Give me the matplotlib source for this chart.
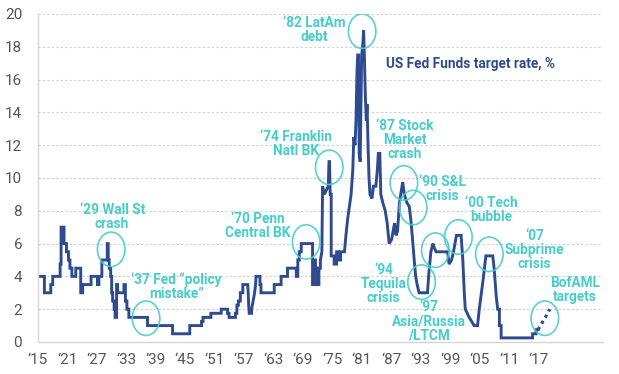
import matplotlib
matplotlib.use("Agg")
import matplotlib.pyplot as plt
from matplotlib.patches import Ellipse

plt.rcParams['font.family'] = ['Roboto', 'DejaVu Sans']

# Fed funds / discount rate history (year, %)
years = [
    1915.0, 1916.4, 1916.4, 1917.7, 1917.7, 1918.1, 1918.1, 1919.6, 1919.6, 1919.8, 1919.8,
    1920.4, 1920.4, 1920.9, 1920.9, 1921.3, 1921.3, 1921.6, 1921.6, 1922.0, 1922.0,
    1922.8, 1922.8, 1923.8, 1923.8, 1924.2, 1924.2, 1925.9, 1925.9, 1927.2, 1927.2,
    1927.5, 1927.5, 1928.1, 1928.1, 1929.2, 1929.2, 1929.4, 1929.4, 1929.6, 1929.6,
    1929.9, 1929.9, 1930.1, 1930.1, 1930.3, 1930.3, 1930.6, 1930.6, 1930.8, 1930.8,
    1931.1, 1931.1, 1931.3, 1931.3, 1932.6, 1932.6, 1932.9, 1932.9, 1933.2, 1933.2,
    1933.6, 1933.6, 1937.4, 1937.4, 1942.5, 1942.5, 1946.0, 1946.0, 1948.4, 1948.4,
    1948.7, 1948.7, 1950.3, 1950.3, 1952.4, 1952.4, 1953.7, 1953.7, 1954.0, 1954.0,
    1955.3, 1955.3, 1955.6, 1955.6, 1955.9, 1955.9, 1956.3, 1956.3, 1956.8, 1956.8,
    1957.8, 1957.9, 1958.0, 1958.1, 1958.6, 1958.6, 1958.9, 1959.2, 1959.4, 1959.5,
    1960.3, 1960.3, 1960.5, 1960.5, 1963.2, 1963.2, 1964.6, 1964.6, 1965.9, 1965.9,
    1967.7, 1967.7, 1968.0, 1968.0, 1968.3, 1968.3, 1968.7, 1968.7, 1971.0, 1971.0,
    1971.3, 1971.3, 1971.6, 1971.6, 1971.9, 1971.9, 1972.3, 1972.3, 1972.6, 1972.6,
    1972.9, 1973.05, 1973.4, 1973.8, 1974.2, 1974.35, 1974.45, 1974.6, 1974.8, 1974.8,
    1975.4, 1975.4, 1975.9, 1975.9, 1976.3, 1976.3, 1976.7, 1976.7, 1977.5, 1977.8,
    1978.15, 1978.5, 1978.85, 1979.2, 1979.4, 1979.65, 1979.85, 1980.05, 1980.2, 1980.35,
    1980.5, 1980.7, 1980.85, 1981.0, 1981.2, 1981.4, 1981.55, 1981.75, 1981.95, 1982.1,
    1982.3, 1982.5, 1982.7, 1983.1, 1983.4, 1983.9, 1984.2, 1984.4, 1984.7, 1984.9,
    1985.3, 1985.8, 1986.2, 1986.6, 1987.1, 1987.4, 1987.7, 1988.0, 1988.3, 1988.7,
    1989.35, 1989.7, 1990.2, 1990.7, 1991.0, 1991.3, 1991.7, 1992.0, 1992.3, 1992.7,
    1994.4, 1994.7, 1995.1, 1995.5, 1995.8, 1996.15, 1998.5, 1998.8, 1999.3, 1999.7,
    2000.0, 2000.3, 2001.25, 2001.6, 2001.9, 2002.1, 2002.5, 2002.9, 2003.4, 2003.9,
    2004.6, 2004.95, 2005.3, 2005.65, 2006.0, 2006.3, 2007.7, 2008.0, 2008.4, 2008.7,
    2009.05, 2009.05, 2009.4, 2009.4, 2015.8, 2015.8, 2016.5, 2016.5, 2016.9,
]
rates = [
    4.0, 4.0, 3.0, 3.0, 3.5, 3.5, 4.0, 4.0, 4.75, 4.75, 7.0,
    7.0, 6.0, 6.0, 5.5, 5.5, 5.0, 5.0, 4.5, 4.5, 4.0,
    4.0, 4.5, 4.5, 3.0, 3.0, 3.5, 3.5, 4.0, 4.0, 3.5,
    3.5, 4.0, 4.0, 5.0, 5.0, 6.0, 6.0, 5.0, 5.0, 4.5,
    4.5, 4.0, 4.0, 3.0, 3.0, 2.5, 2.5, 2.0, 2.0, 1.5,
    1.5, 3.5, 3.5, 3.0, 3.0, 3.5, 3.5, 2.5, 2.5, 2.0,
    2.0, 1.5, 1.5, 1.0, 1.0, 0.5, 0.5, 1.0, 1.0, 1.25,
    1.25, 1.5, 1.5, 1.75, 1.75, 2.0, 2.0, 1.75, 1.75, 1.5,
    1.5, 1.75, 1.75, 2.25, 2.25, 2.5, 2.5, 3.0, 3.0, 3.5,
    3.5, 3.0, 2.25, 1.75, 1.75, 2.0, 2.5, 3.0, 3.5, 4.0,
    4.0, 3.5, 3.5, 3.0, 3.0, 3.5, 3.5, 4.0, 4.0, 4.5,
    4.5, 4.0, 4.0, 5.0, 5.0, 5.5, 5.5, 6.0, 6.0, 3.5,
    3.5, 5.0, 5.0, 4.5, 4.5, 3.5, 3.5, 4.5, 4.5, 5.0,
    5.5, 9.5, 9.0, 9.25, 9.5, 11.0, 11.0, 9.0, 9.0, 5.25,
    5.25, 4.75, 4.75, 5.5, 5.5, 5.0, 5.0, 5.5, 5.5, 6.5,
    7.5, 8.25, 9.0, 10.5, 12.5, 12.0, 13.5, 16.5, 17.5, 17.5,
    11.5, 11.0, 14.5, 17.5, 18.0, 19.0, 17.5, 15.0, 13.5, 14.5,
    12.0, 10.0, 9.0, 8.75, 9.5, 9.5, 10.5, 11.5, 11.5, 9.0,
    8.5, 8.0, 7.25, 6.0, 6.25, 6.75, 7.25, 6.5, 6.75, 8.5,
    9.75, 9.0, 8.5, 8.25, 7.5, 6.5, 5.0, 4.0, 3.5, 3.0,
    3.0, 4.25, 5.5, 6.0, 5.75, 5.5, 5.5, 4.75, 5.0, 5.5,
    6.0, 6.5, 6.5, 5.0, 3.0, 2.0, 1.75, 1.5, 1.25, 1.0,
    1.0, 2.0, 2.8, 3.6, 4.5, 5.25, 5.25, 4.4, 2.8, 2.0,
    2.0, 1.0, 1.0, 0.25, 0.25, 0.5, 0.5, 0.75, 0.75,
]

# BofAML projected path (dotted)
target_years = [2016.9, 2017.6, 2018.4, 2019.3]
target_rates = [0.75, 1.1, 1.5, 2.0]

tick_years = list(range(1915, 2018, 6))
tick_labels = ["\u2018%02d" % (y % 100) for y in tick_years]

# event annotations: text, text position, circle centre
events = [
    ("\u201829 Wall St\ncrash", (1930.2, 7.6), (1930.0, 5.65)),
    ("\u201837 Fed \u201cpolicy\nmistake\u201d", (1943.3, 3.4), (1937.1, 1.45)),
    ("\u201870 Penn\nCentral BK", (1959.8, 7.05), (1969.7, 6.1)),
    ("\u201874 Franklin\nNatl BK", (1967.7, 12.1), (1974.4, 10.65)),
    ("\u201882 LatAm\ndebt", (1971.4, 19.05), (1981.1, 18.95)),
    ("\u201887 Stock\nMarket\ncrash", (1989.8, 12.3), (1989.6, 9.7)),
    ("\u201890 S&L\ncrisis", (1997.4, 9.35), (1991.5, 8.2)),
    ("\u201800 Tech\nbubble", (2007.4, 8.05), (2000.7, 6.4)),
    ("\u201894\nTequila\ncrisis", (1985.4, 3.55), (1993.2, 3.65)),
    ("\u201897\nAsia/Russia\n/LTCM", (1994.7, 1.25), (1996.0, 5.6)),
    ("\u201807\nSubprime\ncrisis", (2016.2, 5.6), (2007.0, 5.35)),
    ("BofAML\ntargets", (2024.5, 3.15), (2018.3, 1.45)),
]

navy = '#2E4B8F'
teal = '#45CDCD'

fig = plt.figure(figsize=(6.19, 3.74), dpi=100)
ax = fig.add_axes([0.0606, 0.0856, 0.914, 0.877])

ax.plot(years, rates, color=navy, lw=2.1, solid_joinstyle='miter', zorder=2)
ax.plot(target_years, target_rates, color=navy, lw=2.3, linestyle=(0, (1, 1.2)), zorder=2)

for text, (tx, ty), (cx, cy) in events:
    ax.add_patch(Ellipse((cx, cy), 5.6, 2.1, fill=False, edgecolor=teal,
                         lw=1.2, alpha=0.9, zorder=3))
    ax.text(tx, ty, text, color=teal, fontsize=9.8, fontweight='bold',
            ha='center', va='center', linespacing=1.0, zorder=4)

ax.text(1985.9, 16.95, "US Fed Funds target rate, %", color=navy, fontsize=9.8,
        fontweight='bold', ha='left', va='center')

ax.set_xlim(1915, 2030.2)
ax.set_ylim(0, 20)
ax.set_xticks(tick_years)
ax.set_xticklabels(tick_labels)
ax.set_yticks(range(0, 21, 2))
ax.tick_params(length=0, labelsize=11, labelcolor='#555555')
ax.tick_params(axis='x', pad=8)
ax.tick_params(axis='y', pad=11)

for v in range(2, 21, 2):
    ax.axhline(v, color='#cfcfcf', lw=0.8, linestyle=(0, (2, 2)), zorder=1)

for side in ['top', 'right']:
    ax.spines[side].set_visible(False)
for side in ['left', 'bottom']:
    ax.spines[side].set_color('#d5d5d5')
    ax.spines[side].set_linewidth(1.0)

fig.savefig("out.png", dpi=100)
